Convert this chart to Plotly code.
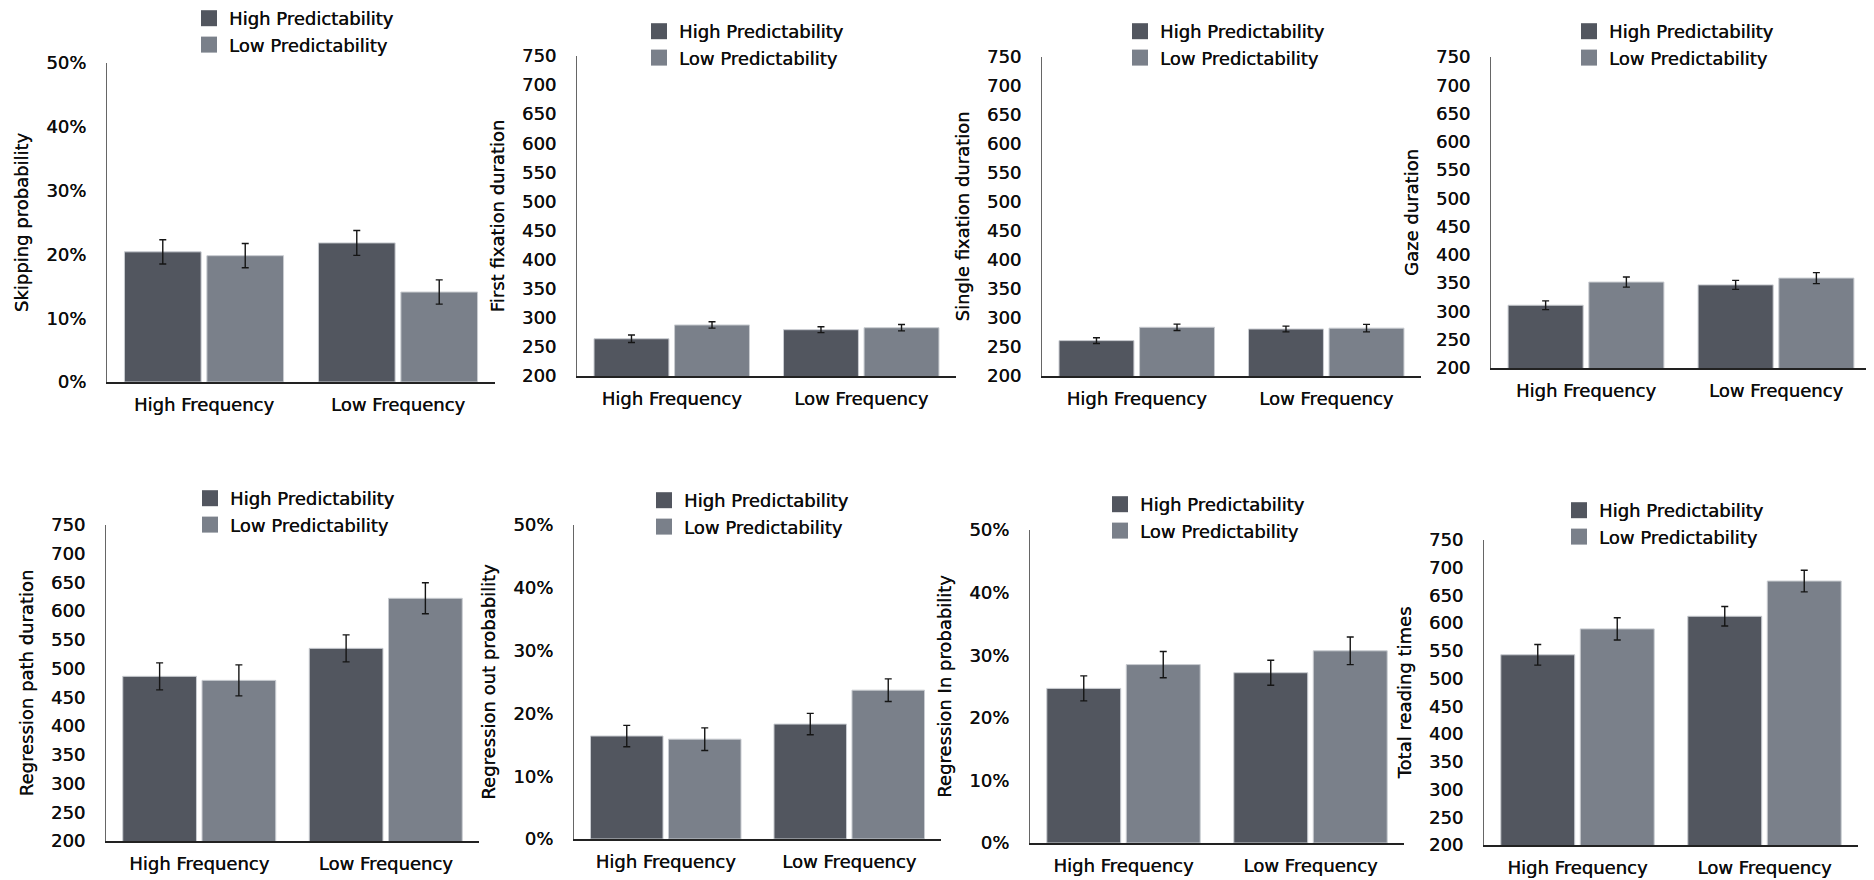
import plotly.graph_objects as go

# page body has an 8px margin; figure is sized to fit the viewport exactly
OFF = 8
W, H = 1874 - OFF, 880 - OFF

categories = ["High Frequency", "Low Frequency"]
series_names = ["High Predictability", "Low Predictability"]
colors = ["#52565f", "#7a808a"]

titles = ["Skipping probability", "First fixation duration", "Single fixation duration",
          "Gaze duration", "Regression path duration", "Regression out probability",
          "Regression In probability", "Total reading times"]
is_pct = [True, False, False, False, False, True, True, False]

# values: [HF, LF] for High Predictability / Low Predictability
skip_hp = [20.4, 21.8];   skip_lp = [19.8, 14.1]
skip_hp_err = [1.9, 1.95]; skip_lp_err = [1.9, 1.9]
ffd_hp = [264, 279.6];    ffd_lp = [287.7, 283]
ffd_hp_err = [6.5, 5];    ffd_lp_err = [5.5, 5.5]
sfd_hp = [261, 281];      sfd_lp = [284, 282.5]
sfd_hp_err = [5, 5];      sfd_lp_err = [5.5, 6.5]
gd_hp = [311, 347];       gd_lp = [352, 359]
gd_hp_err = [7.7, 8];     gd_lp_err = [9, 9.7]
rpd_hp = [486.6, 535.3];  rpd_lp = [479.6, 622.4]
rpd_hp_err = [23.5, 23.5]; rpd_lp_err = [27, 27]
rout_hp = [16.4, 18.3];   rout_lp = [15.9, 23.7]
rout_hp_err = [1.7, 1.7]; rout_lp_err = [1.8, 1.8]
rin_hp = [24.7, 27.2];    rin_lp = [28.5, 30.7]
rin_hp_err = [2.0, 2.0];  rin_lp_err = [2.1, 2.2]
trt_hp = [543, 612.5];    trt_lp = [589.7, 676]
trt_hp_err = [18.6, 17.7]; trt_lp_err = [20, 19.5]

panels = [
    (skip_hp, skip_lp, skip_hp_err, skip_lp_err),
    (ffd_hp, ffd_lp, ffd_hp_err, ffd_lp_err),
    (sfd_hp, sfd_lp, sfd_hp_err, sfd_lp_err),
    (gd_hp, gd_lp, gd_hp_err, gd_lp_err),
    (rpd_hp, rpd_lp, rpd_hp_err, rpd_lp_err),
    (rout_hp, rout_lp, rout_hp_err, rout_lp_err),
    (rin_hp, rin_lp, rin_hp_err, rin_lp_err),
    (trt_hp, trt_lp, trt_hp_err, trt_lp_err),
]

pct_ticks = [0, 10, 20, 30, 40, 50]
dur_ticks = list(range(200, 751, 50))

# layout boxes in screen pixels: (x0, x1, y_top, y_bottom)
boxes = [
    (107, 495, 63, 382), (577, 956, 56, 376), (1042, 1421, 57, 376), (1491, 1871, 57, 368),
    (106, 479, 525, 841), (574, 941, 525, 839), (1030, 1404, 530, 843), (1484, 1858, 540, 845),
]
# legend square left edge and first row centre (screen pixels)
legpos = [(201, 16), (651, 29), (1132, 29), (1581, 29),
          (202, 496), (656, 498), (1112, 502), (1571, 508)]


def px(x):
    return (x - OFF) / W


def py(y):
    return 1 - (y - OFF) / H


FONT = "DejaVu Sans"
TXT = "#0d0d0d"
SH = "0.35px 0px 0px #0d0d0d"


def fnt(size=18):
    return dict(family=FONT, size=size, color=TXT, shadow=SH)


fig = go.Figure()
layout = dict(width=W, height=H, autosize=False,
              margin=dict(l=0, r=0, t=0, b=0, pad=0, autoexpand=False),
              paper_bgcolor="white", plot_bgcolor="white",
              barmode="group", bargap=0.15, bargroupgap=0.07,
              font=dict(family=FONT, size=18, color=TXT), showlegend=True)

for i, (hp, lp, hpe, lpe) in enumerate(panels):
    n = i + 1
    xa = "x" if n == 1 else f"x{n}"
    ya = "y" if n == 1 else f"y{n}"
    lg = "legend" if n == 1 else f"legend{n}"
    for vals, errs, name, col in [(hp, hpe, series_names[0], colors[0]),
                                  (lp, lpe, series_names[1], colors[1])]:
        fig.add_trace(go.Bar(x=categories, y=vals, name=name, xaxis=xa, yaxis=ya,
                             marker=dict(color=col, line=dict(color="#c9ccd1", width=1)),
                             error_y=dict(type="data", array=errs, color="#151515",
                                          thickness=1.4, width=3.5),
                             showlegend=False, legend=lg))
        fig.add_trace(go.Scatter(x=[None], y=[None], mode="markers", name=name,
                                 xaxis=xa, yaxis=ya, legend=lg,
                                 marker=dict(symbol="square", size=16, color=col,
                                             line=dict(width=0))))
    x0, x1, y0, y1 = boxes[i]
    xkey = "xaxis" if n == 1 else f"xaxis{n}"
    ykey = "yaxis" if n == 1 else f"yaxis{n}"
    layout[xkey] = dict(domain=[px(x0), px(x1)], anchor=ya, range=[-0.5, 1.5],
                        automargin=False,
                        showline=True, linecolor="#222", linewidth=1.5,
                        showgrid=False, zeroline=False, ticks="",
                        ticklabelstandoff=6, tickfont=fnt())
    if is_pct[i]:
        yd = dict(range=[0, 50], tickvals=pct_ticks, ticktext=[f"{t}%" for t in pct_ticks])
    else:
        yd = dict(range=[200, 750], tickvals=dur_ticks, ticktext=[str(t) for t in dur_ticks])
    yd.update(domain=[py(y1), py(y0)], anchor=xa, automargin=False,
              showline=True, linecolor="#666", linewidth=1.2,
              showgrid=False, zeroline=False, ticks="",
              ticklabelstandoff=16, tickfont=fnt(),
              title=dict(text=titles[i], font=fnt(), standoff=12))
    layout[ykey] = yd
    lx, ly = legpos[i]
    layout[lg] = dict(x=px(lx - 12), y=py(ly - 16), xanchor="left", yanchor="top",
                      bgcolor="rgba(0,0,0,0)", borderwidth=0,
                      font=fnt(), tracegroupgap=0, itemsizing="trace")

fig.update_layout(**layout)
fig.write_html("out.html")
